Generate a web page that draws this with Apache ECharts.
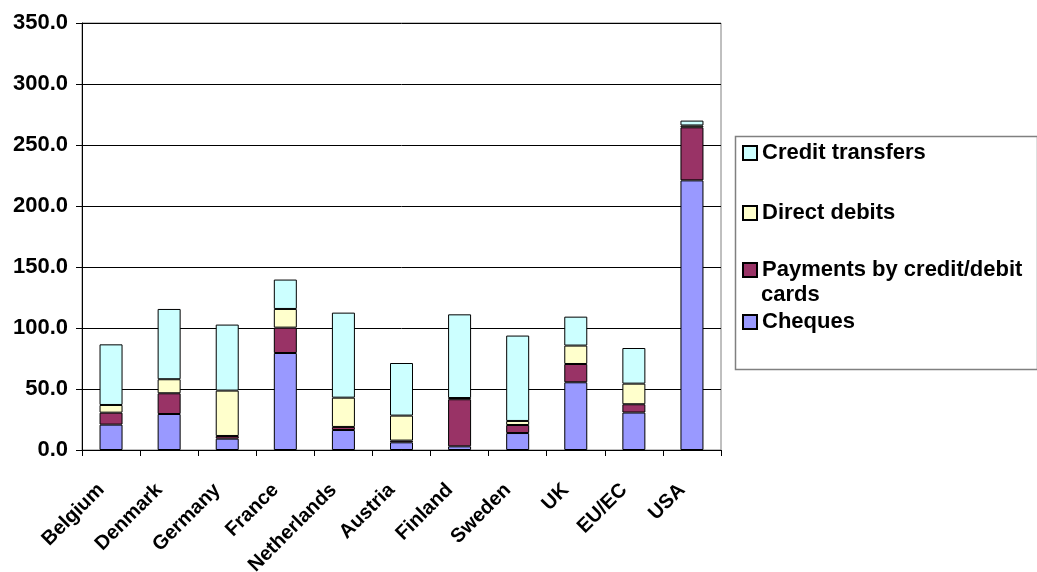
<!DOCTYPE html>
<html>
<head>
<meta charset="utf-8">
<script src="https://cdn.jsdelivr.net/npm/echarts@6/dist/echarts.min.js"></script>
<style>
html,body{margin:0;padding:0;background:#fff;}
#chart{width:1037px;height:572px;}
</style>
</head>
<body>
<div id="chart"></div>
<script>
var categories = ['Belgium','Denmark','Germany','France','Netherlands','Austria','Finland','Sweden','UK','EU/EC','USA'];
var cheques = [20.8, 29.5, 9.3, 79.5, 16.4, 6.3, 3.0, 13.9, 55.5, 30.7, 221.0];
var cards   = [9.8, 17.0, 2.2, 20.8, 2.5, 1.4, 38.6, 6.6, 15.0, 6.8, 43.5];
var directDebits = [6.3, 11.5, 37.2, 15.3, 24.0, 20.5, 1.0, 3.3, 15.1, 16.9, 1.5];
var creditTransfers = [49.7, 57.6, 54.1, 24.1, 69.7, 43.1, 68.6, 70.0, 23.7, 29.2, 4.0];
var yTicks = [0, 50, 100, 150, 200, 250, 300, 350];

var names = ['Cheques','Payments by credit/debit cards','Direct debits','Credit transfers'];
var colors = ['#9999FF','#993366','#FFFFCC','#CCFFFF'];
var datas = [cheques, cards, directDebits, creditTransfers];

var font = '"Liberation Sans", Arial, sans-serif';
var chart = echarts.init(document.getElementById('chart'));

var series = names.map(function(n, i){
  return {
    name: n, type: 'bar', stack: 'total', data: datas[i], barWidth: 23,
    itemStyle: {color: colors[i], borderColor: '#000', borderWidth: 1},
    emphasis: {disabled: true}
  };
});

var legendCenters = {'Credit transfers':153, 'Direct debits':213, 'Payments by credit/debit cards':270, 'Cheques':322};
var legends = Object.keys(legendCenters).map(function(n){
  return {
    data: [n], orient: 'vertical', left: 742, top: legendCenters[n] - 11, padding: 0,
    itemWidth: 14, itemHeight: 14, itemGap: 5, icon: 'rect', selectedMode: false,
    formatter: function(name){ return name === 'Payments by credit/debit cards' ? 'Payments by credit/debit' : name; },
    textStyle: {fontFamily: font, fontWeight: 'bold', fontSize: 22, lineHeight: 22, color: '#000', padding: [0,0,0,0]}
  };
});

chart.setOption({
  animation: false,
  grid: {left: 82, right: 316, top: 23, bottom: 122, show: true, borderColor: '#808080', borderWidth: 1, backgroundColor: 'transparent', containLabel: false, outerBoundsMode: 'none'},
  legend: legends,
  xAxis: {
    type: 'category', data: categories,
    axisLine: {lineStyle: {color: '#000', width: 1}},
    axisTick: {show: true, length: 6, lineStyle: {color: '#000'}},
    axisLabel: {rotate: 45, margin: 27, padding: [0, 14, 0, 0], fontFamily: font, fontWeight: 'bold', fontSize: 20, color: '#000', interval: 0}
  },
  yAxis: {
    type: 'value', min: yTicks[0], max: yTicks[yTicks.length-1], interval: 50,
    axisLine: {show: true, lineStyle: {color: '#000', width: 1}},
    axisTick: {show: true, length: 6, lineStyle: {color: '#000'}},
    splitLine: {lineStyle: {color: '#000', width: 1}},
    axisLabel: {formatter: function(v){ return v.toFixed(1); }, margin: 14, fontFamily: font, fontWeight: 'bold', fontSize: 22, color: '#000'}
  },
  series: series,
  graphic: [
    {type: 'rect', left: 733, top: 134, shape: {width: 302, height: 233}, style: {fill: 'none', stroke: '#808080', lineWidth: 1.5}, silent: true},
    {type: 'text', left: 761, top: 284, style: {text: 'cards', font: 'bold 22px ' + font, fill: '#000'}, silent: true}
  ]
});
</script>
</body>
</html>
